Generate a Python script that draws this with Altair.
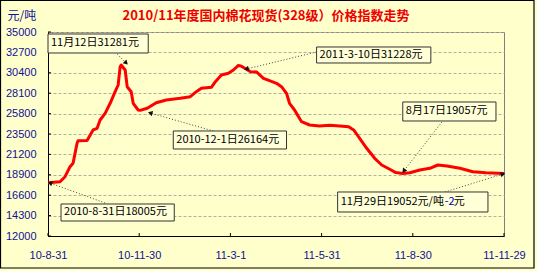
import altair as alt
import pandas as pd

# ---- data (day offset from 2010-08-31, index value) ----
START = pd.Timestamp("2010-08-31")
days = [0, 12, 17, 22, 25, 29, 30, 39, 45, 49, 52, 57, 62, 67, 70, 72, 73, 77, 79, 83,
        85, 90, 92, 99, 108, 118, 132, 142, 148, 153, 163, 167, 173, 180, 185, 190, 193,
        198, 202, 208, 215, 221, 228, 233, 238, 241, 246, 250, 253, 261, 271, 281, 291,
        300, 305, 311, 318, 326, 333, 341, 347, 354, 361, 371, 381, 389, 398, 411, 424,
        437, 455]
values = [18005, 18122, 18686, 19814, 20197, 22452, 22745, 22780, 23952, 24143, 25079,
          25834, 26962, 28270, 29025, 31089, 31281, 30717, 28834, 28270, 26962, 26207,
          26164, 26398, 27030, 27334, 27526, 27706, 28270, 28653, 28766, 29397, 30153,
          30344, 30717, 31228, 31150, 30795, 30525, 30500, 29781, 29510, 29217, 28834,
          28089, 26962, 26207, 25451, 24887, 24515, 24403, 24480, 24403, 24324, 23952,
          23016, 21888, 20761, 20005, 19520, 19150, 19057, 19137, 19442, 19633, 20005,
          19893, 19633, 19250, 19137, 19052]

x_tick_days = [0, 91, 182, 273, 364, 455]
y_ticks = [12000, 14300, 16600, 18900, 21200, 23500, 25800, 28100, 30400, 32700, 35000]

# annotations
ann_text = ["11月12日31281元", "2010-12-1日26164元", "2011-3-10日31228元",
            "8月17日19057元", "2010-8-31日18005元", "11月29日19052元/吨"]
box_d1 = [0, 125, 268, 354, 13, 289]
box_d2 = [100, 238, 382, 447, 126, 439]
box_top = [34776, 23839, 33310, 27109, 15608, 16961]
box_bot = [32633, 21809, 31506, 24966, 13691, 14706]
txt_d = [3, 128, 271, 357, 16, 292]
txt_v = [33705, 22824, 32408, 26037, 14650, 15834]
arr_from_d = [69, 165, 268, 393, 57, 396]
arr_from_v = [32521, 23839, 32746, 24854, 15721, 16961]
arr_to_d = [78, 102, 198, 355, 2, 454]
arr_to_v = [31506, 25868, 30829, 19329, 17976, 18991]
arr_angle = [135, 286, 256, 217, 290, 73]


def d2s(d):
    return (START + pd.Timedelta(days=d)).strftime("%Y-%m-%dT00:00:00")


line_df = pd.DataFrame({"date": [d2s(d) for d in days], "value": values})
ann_df = pd.DataFrame({
    "text": ann_text,
    "bx1": [d2s(d) for d in box_d1], "bx2": [d2s(d) for d in box_d2],
    "by1": box_top, "by2": box_bot,
    "tx": [d2s(d) for d in txt_d], "ty": txt_v,
    "ax1": [d2s(d) for d in arr_from_d], "ay1": arr_from_v,
    "ax2": [d2s(d) for d in arr_to_d], "ay2": arr_to_v,
    "angle": arr_angle,
})
xt_df = pd.DataFrame({"date": [d2s(d) for d in x_tick_days]})
yt_df = pd.DataFrame({"value": y_ticks})
last_df = ann_df.iloc[[5]]

W, H = 456, 204
BLUE = "#10109A"
CJK = "Noto Sans CJK SC"
LAB = "Liberation Sans"

xscale = alt.Scale(domain=[alt.DateTime(year=2010, month=8, date=31),
                           alt.DateTime(year=2011, month=11, date=29)], nice=False)
yscale = alt.Scale(domain=[12000, 35000], nice=False, zero=False)

x_axis = alt.Axis(values=[alt.DateTime(year=int(t.year), month=int(t.month), date=int(t.day))
                          for t in [START + pd.Timedelta(days=d) for d in x_tick_days]],
                  format="%y-%-m-%-d", labelColor=BLUE, labelFont=LAB, labelFontSize=11,
                  ticks=False, labelPadding=13, grid=False, domainColor="black",
                  labelFlush=False, labelOverlap=False, title=None)
y_axis = alt.Axis(values=y_ticks, format="d", grid=True, gridDash=[3, 2], gridColor="#B0B0A0",
                  ticks=False, labelPadding=12, domainColor="black", labelColor=BLUE,
                  labelFont=LAB, labelFontSize=11, title="元/吨", titleAngle=0,
                  titleX=-41, titleY=-17, titleAlign="left", titleBaseline="middle",
                  titleColor=BLUE, titleFont=CJK, titleFontWeight="normal", titleFontSize=12)

X = lambda f: alt.X(f, type="temporal", scale=xscale, axis=x_axis)
Y = lambda f: alt.Y(f, type="quantitative", scale=yscale, axis=y_axis)

line = alt.Chart(line_df).mark_line(color="#FF0000", strokeWidth=3, strokeJoin="round").encode(
    x=X("date"), y=Y("value"))

xticks = alt.Chart(xt_df).mark_rule(color="black").encode(
    x=X("date"), y=alt.value(H - 3), y2=alt.value(H))
yticks = alt.Chart(yt_df).mark_rule(color="black").encode(
    y=Y("value"), x=alt.value(0), x2=alt.value(3))

arrows = alt.Chart(ann_df).mark_rule(color="#444444", strokeDash=[1, 2], strokeWidth=1).encode(
    x=X("ax1"), y=Y("ay1"), x2="ax2", y2="ay2")
heads = alt.Chart(ann_df).mark_point(shape="triangle-up", filled=True, size=28,
                                     color="#111111", opacity=1).encode(
    x=X("ax2"), y=Y("ay2"), angle=alt.Angle("angle:Q", scale=None))
boxes = alt.Chart(ann_df).mark_rect(fill="#FFFFD8", stroke="#333333", strokeWidth=1).encode(
    x=X("bx1"), x2="bx2", y=Y("by1"), y2="by2")
texts = alt.Chart(ann_df).mark_text(align="left", baseline="middle", font=CJK,
                                    fontSize=11, color="black").encode(
    x=X("tx"), y=Y("ty"), text="text:N")
minus = alt.Chart(last_df).mark_text(align="left", baseline="middle", font=CJK, fontSize=11,
                                     color="#0000CC", dx=104).encode(
    x=X("tx"), y=Y("ty"), text=alt.value("-2"))
yuan = alt.Chart(last_df).mark_text(align="left", baseline="middle", font=CJK, fontSize=11,
                                    color="black", dx=113).encode(
    x=X("tx"), y=Y("ty"), text=alt.value("元"))

border = alt.Chart(alt.Data(values=[{"a": 1}])).mark_rect(
    fill="transparent", stroke="black", strokeWidth=1.2).encode(
    x=alt.value(-47.5), x2=alt.value(486), y=alt.value(-31.5), y2=alt.value(236))

chart = alt.layer(border, line, xticks, yticks, arrows, boxes, texts, minus, yuan, heads).properties(
    width=W, height=H,
    title=alt.TitleParams("2010/11年度国内棉花现货(328级）价格指数走势", color="#EE0000",
                          fontSize=13, font=CJK, fontWeight="bold", anchor="middle",
                          frame="group", offset=0, dy=36, dx=-10, baseline="bottom"),
    autosize=alt.AutoSizeParams(type="none"),
    padding={"left": 48, "top": 32, "right": 33, "bottom": 35},
).configure(background="#FFFFCC").configure_view(stroke="#808080", strokeWidth=1)

chart.save("out.html", embed_options={"renderer": "svg", "actions": False})
